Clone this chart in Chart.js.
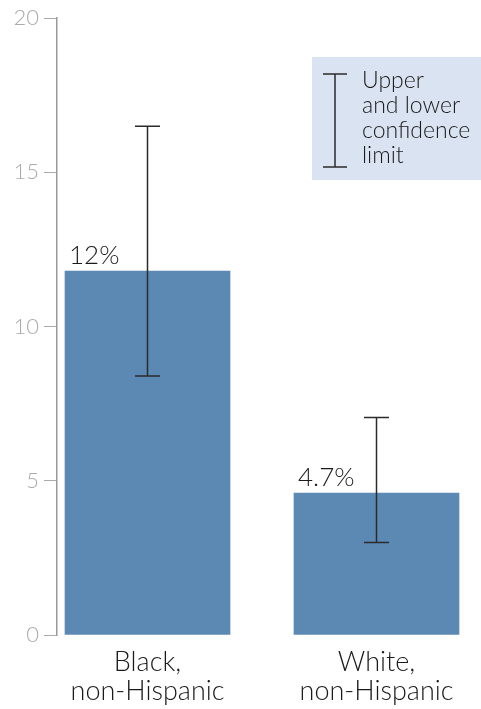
<!DOCTYPE html>
<html lang="en">
<head>
  <meta charset="UTF-8">
  <title>Confidence limits</title>
  <style>
    body {
      margin: 0;
      padding: 0;
      background-color: #ffffff;
    }
    canvas {
      display: block;
    }
  </style>
</head>
<body>
  <canvas id="barChart" width="481" height="709"></canvas>

  <script src="https://cdn.jsdelivr.net/npm/chart.js"></script>
  <script>
    // Data
    const categories = [['Black,', 'non-Hispanic'], ['White,', 'non-Hispanic']];
    const values = [11.8, 4.6];
    const valueLabels = ['12%', '4.7%'];
    const lowerLimits = [8.4, 3.0];
    const upperLimits = [16.5, 7.05];
    const yTicks = [0, 5, 10, 15, 20];
    const legendLines = ['Upper', 'and lower', 'confidence', 'limit'];

    const barColor = '#5b89b4';
    const fontFamily = 'Lato, "DejaVu Sans", sans-serif';

    // Error bars and value labels on top of the bars
    const errorBarPlugin = {
      id: 'errorBars',
      afterDatasetsDraw(chart) {
        const ctx = chart.ctx;
        const yScale = chart.scales.y;
        const meta = chart.getDatasetMeta(0);
        ctx.save();
        meta.data.forEach((bar, i) => {
          const x = bar.x;
          const top = yScale.getPixelForValue(upperLimits[i]);
          const bottom = yScale.getPixelForValue(lowerLimits[i]);
          ctx.strokeStyle = '#2b2b2b';
          ctx.lineWidth = 1.5;
          ctx.beginPath();
          ctx.moveTo(x, top);
          ctx.lineTo(x, bottom);
          ctx.moveTo(x - 12.5, top);
          ctx.lineTo(x + 12.5, top);
          ctx.moveTo(x - 12.5, bottom);
          ctx.lineTo(x + 12.5, bottom);
          ctx.stroke();

          // value label, left aligned above the bar
          ctx.fillStyle = '#1a1a1a';
          ctx.font = '300 26px ' + fontFamily;
          ctx.textAlign = 'left';
          ctx.textBaseline = 'alphabetic';
          ctx.fillText(valueLabels[i], bar.x - bar.width / 2 + 4, bar.y - 7);
        });
        ctx.restore();
      }
    };

    // Legend box explaining the error bar
    const legendPlugin = {
      id: 'ciLegend',
      afterDraw(chart) {
        const ctx = chart.ctx;
        ctx.save();
        ctx.fillStyle = '#d9e3f1';
        ctx.fillRect(312, 57, 169, 123);

        ctx.strokeStyle = '#2b2b2b';
        ctx.lineWidth = 1.5;
        ctx.beginPath();
        ctx.moveTo(335, 74);
        ctx.lineTo(335, 167);
        ctx.moveTo(323, 74);
        ctx.lineTo(347, 74);
        ctx.moveTo(323, 167);
        ctx.lineTo(347, 167);
        ctx.stroke();

        ctx.fillStyle = '#1a1a1a';
        ctx.font = '300 23px ' + fontFamily;
        ctx.textAlign = 'left';
        ctx.textBaseline = 'alphabetic';
        legendLines.forEach((line, i) => {
          ctx.fillText(line, 362, 88 + i * 25);
        });
        ctx.restore();
      }
    };

    const ctx = document.getElementById('barChart').getContext('2d');
    const chart = new Chart(ctx, {
      type: 'bar',
      data: {
        datasets: [{
          data: values.map((v, i) => ({ x: i, y: v })),
          backgroundColor: barColor,
          borderWidth: 0,
          barThickness: 165
        }]
      },
      options: {
        responsive: false,
        animation: false,
        layout: { padding: { top: 14, right: 0, bottom: 0, left: 0 } },
        plugins: {
          legend: { display: false },
          tooltip: { enabled: false }
        },
        scales: {
          x: {
            type: 'linear',
            offset: false,
            min: -0.3952,
            max: 1.4563,
            grid: { display: false, drawTicks: false, offset: false },
            border: { display: false },
            afterBuildTicks: s => { s.ticks = [{ value: 0 }, { value: 1 }]; },
            afterFit: s => { s.height = 74; },
            ticks: {
              autoSkip: false,
              maxRotation: 0,
              padding: 12,
              color: '#1a1a1a',
              font: { family: fontFamily, size: 27, weight: '300', lineHeight: 1.1 },
              callback: value => categories[value]
            }
          },
          y: {
            min: 0,
            max: 20,
            afterBuildTicks: s => { s.ticks = yTicks.map(v => ({ value: v })); },
            afterFit: s => { s.width = 57; },
            grid: {
              drawOnChartArea: false,
              tickLength: 13,
              color: '#aaaaaa',
              lineWidth: 1
            },
            border: { color: '#999999', width: 1.5 },
            ticks: {
              padding: 5,
              color: '#aaaaaa',
              font: { family: fontFamily, size: 22, weight: '300' }
            }
          }
        }
      },
      plugins: [errorBarPlugin, legendPlugin]
    });
  </script>
</body>
</html>
